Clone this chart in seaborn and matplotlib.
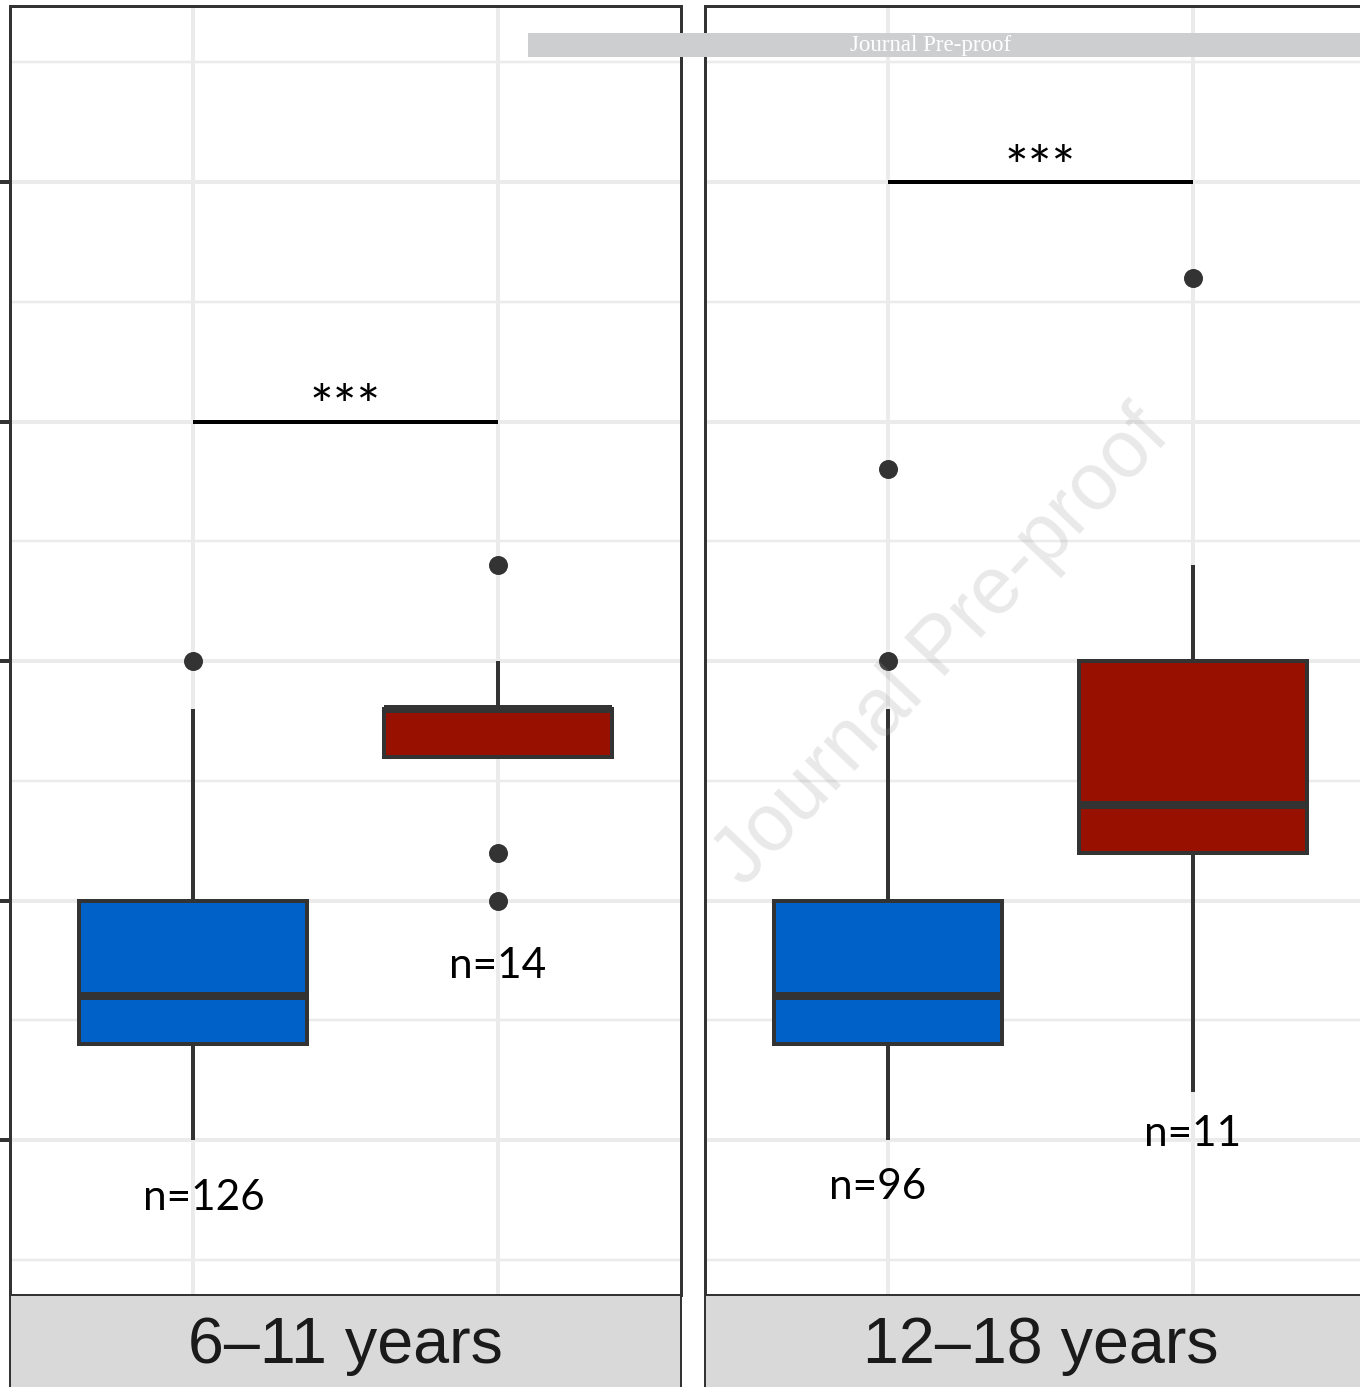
import numpy as np
import pandas as pd
import matplotlib
matplotlib.use("Agg")
import matplotlib.pyplot as plt
from matplotlib.patches import Rectangle
import seaborn as sns

# ---- data -------------------------------------------------------------
groups = ["Control", "Case"]
colors = {"Control": "#0062C8", "Case": "#981100"}
panel_titles = ["6\u201311 years", "12\u201318 years"]

# five-number summaries per group: whisker low, Q1, median, Q3, whisker high
summary_6_11 = {
    "Control": [1.0, 1.4, 1.6, 2.0, 2.8],
    "Case":    [2.6, 2.6, 2.8, 2.8, 3.0],
}
summary_12_18 = {
    "Control": [1.0, 1.4, 1.6, 2.0, 2.8],
    "Case":    [1.2, 2.2, 2.4, 3.0, 3.4],
}
outliers_6_11 = {"Control": [3.0], "Case": [3.4, 2.2, 2.0]}
outliers_12_18 = {"Control": [3.0, 3.8], "Case": [4.6]}

counts_6_11 = {"Control": 126, "Case": 14}
counts_12_18 = {"Control": 96, "Case": 11}
# label anchor (x offset from category, baseline y)
count_pos_6_11 = {"Control": (0.036, 0.708), "Case": (0.0, 1.676)}
count_pos_12_18 = {"Control": (-0.033, 0.754), "Case": (0.0, 0.975)}

signif_y = [4.0, 5.0]
signif_text = "***"

panels = [
    (summary_6_11, outliers_6_11, counts_6_11, count_pos_6_11),
    (summary_12_18, outliers_12_18, counts_12_18, count_pos_12_18),
]

# ---- style ------------------------------------------------------------
sns.set_style("white")
plt.rcParams["font.family"] = ["Lato", "DejaVu Sans"]

W, H = 1360, 1387
fig = plt.figure(figsize=(W / 100, H / 100), dpi=100)

EDGE = "#333333"
GRID = "#EBEBEB"
px = 72 / 100  # points per pixel

panel_left = [10, 705]
panel_w = 671
panel_top, panel_bottom = 6, 1295

for i, (summ, outl, counts, cpos) in enumerate(panels):
    ax = fig.add_axes([panel_left[i] / W, (H - panel_bottom) / H,
                       panel_w / W, (panel_bottom - panel_top) / H])
    ax.set_facecolor("white")
    ax.set_axisbelow(True)

    box_df = pd.DataFrame(
        [(g, v) for g in groups for v in summ[g]], columns=["group", "value"]
    )
    sns.boxplot(
        data=box_df, x="group", y="value", hue="group", order=groups,
        hue_order=groups, palette=colors, saturation=1, legend=False,
        whis=(0, 100), width=0.75, linecolor=EDGE, linewidth=4 * px,
        fliersize=0, showcaps=False,
        medianprops={"linewidth": 8 * px, "color": EDGE, "solid_capstyle": "butt"},
        ax=ax,
    )

    out_df = pd.DataFrame(
        [(g, v) for g in groups for v in outl[g]], columns=["group", "value"]
    )
    sns.stripplot(
        data=out_df, x="group", y="value", order=groups, jitter=False,
        color=EDGE, size=19 * px, linewidth=0, ax=ax, zorder=5,
    )

    # significance bracket
    ax.plot([0, 1], [signif_y[i], signif_y[i]], color="black",
            lw=4 * px, solid_capstyle="butt", zorder=4)
    ax.text(0.5, signif_y[i] - 0.015, signif_text, ha="center", va="baseline",
            fontsize=40, color="black", zorder=6)

    for j, g in enumerate(groups):
        dx, yb = cpos[g]
        ax.text(j + dx, yb, f"n={counts[g]}", ha="center", va="baseline",
                fontsize=30.5, color="black", zorder=6)

    ax.set_xlim(-0.6, 1.6)
    ax.set_ylim(0.353, 5.735)
    ax.set_yticks([1, 2, 3, 4, 5])
    ax.set_yticks([0.5, 1.5, 2.5, 3.5, 4.5, 5.5], minor=True)
    ax.set_xticks([0, 1])
    ax.grid(True, which="major", axis="both", color=GRID, lw=4 * px)
    ax.grid(True, which="minor", axis="y", color=GRID, lw=2.5 * px)
    ax.set_xlabel("")
    ax.set_ylabel("")
    ax.tick_params(axis="x", which="both", bottom=False, labelbottom=False)
    if i == 0:
        ax.tick_params(axis="y", which="major", left=True, length=10 * px,
                       width=4 * px, color=EDGE, labelleft=False)
        ax.tick_params(axis="y", which="minor", left=False)
    else:
        ax.tick_params(axis="y", which="both", left=False, labelleft=False)
    for sp in ax.spines.values():
        sp.set_visible(True)
        sp.set_color(EDGE)
        sp.set_linewidth(3 * px)

    # facet strip along the bottom
    sax = fig.add_axes([panel_left[i] / W, (H - 1397) / H, panel_w / W, 102 / H])
    sax.set_facecolor("#D9D9D9")
    sax.set_xticks([])
    sax.set_yticks([])
    for sp in sax.spines.values():
        sp.set_color(EDGE)
        sp.set_linewidth(2 * px)
    sax.text(0.5, 0.5, panel_titles[i], ha="center", va="center",
             transform=sax.transAxes, fontsize=46.5, color="#1A1A1A",
             family=["Liberation Sans", "DejaVu Sans"])

# diagonal watermark
fig.text(943 / W, 1 - 648 / H, "Journal Pre-proof", rotation=46.5,
         rotation_mode="anchor", ha="center", va="center", fontsize=58,
         color="#9A9A9A", alpha=0.22, zorder=20,
         family=["Liberation Sans", "DejaVu Sans"])

# banner at the top
fig.patches.append(Rectangle((528 / W, 1 - 57 / H), 1 - 528 / W, 24 / H,
                             transform=fig.transFigure, facecolor="#CDCED0",
                             edgecolor="none", zorder=20))
fig.text(931 / W, 1 - 46 / H, "Journal Pre-proof", ha="center", va="center",
         fontsize=16.5, color="white", zorder=21,
         family=["Liberation Serif", "DejaVu Serif"])

fig.savefig("out.png", dpi=100)
